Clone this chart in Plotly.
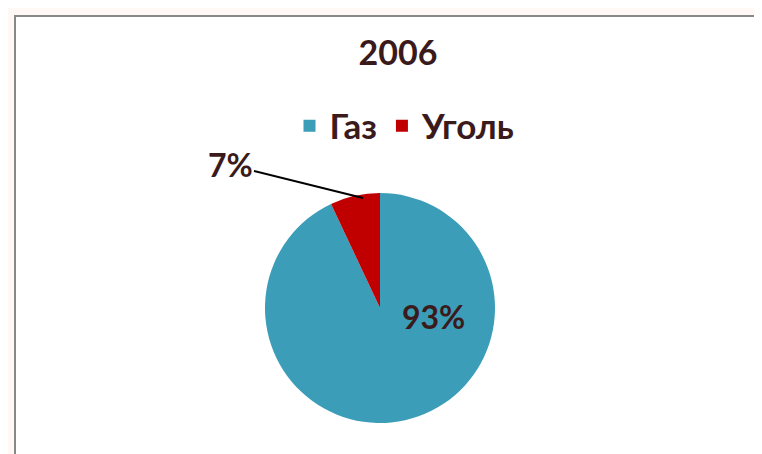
import plotly.graph_objects as go

labels = ["Газ", "Уголь"]
values = [93, 7]
colors = ["#3C9DB8", "#C00000"]
title_text = "2006"

W, H = 762, 454
txt_color = "#3A1A1A"
font_family = "Lato, 'Open Sans', sans-serif"

fig = go.Figure()
fig.add_trace(go.Pie(
    labels=labels,
    values=values,
    sort=False,
    direction="clockwise",
    rotation=0,
    marker=dict(colors=colors, line=dict(width=0)),
    textposition="none",
    domain=dict(x=[(372 - 120) / W, (372 + 120) / W], y=[1 - 415 / H, 1 - 185 / H]),
    hoverinfo="label+percent",
))

pcts = [f"{round(v * 100 / sum(values))}%" for v in values]

# inside label of the big slice
fig.add_annotation(
    x=425 / W, y=1 - 330 / H, xref="paper", yref="paper",
    text="<b>" + pcts[0] + "</b>", showarrow=False,
    font=dict(size=32, color=txt_color, family=font_family),
)
# leader label for the small slice
fig.add_annotation(
    x=355 / W, y=1 - 190 / H, xref="paper", yref="paper",
    text="<b>" + pcts[1] + "</b>", showarrow=True, arrowhead=0, arrowwidth=2, arrowcolor="black",
    ax=-133, ay=-33,
    font=dict(size=32, color=txt_color, family=font_family),
)

fig.add_shape(
    type="rect", xref="paper", yref="paper",
    x0=7 / W, x1=752 / W, y0=-0.1, y1=1 - 8 / H,
    line=dict(color="#888888", width=2), fillcolor="white", layer="below",
)

fig.update_layout(
    width=W, height=H,
    margin=dict(l=0, r=0, t=0, b=0),
    paper_bgcolor="#FFF8F4",
    plot_bgcolor="rgba(0,0,0,0)",
    title=dict(text="<b>" + title_text + "</b>", x=390 / W, xanchor="center",
               y=1 - 45 / H, yanchor="middle",
               font=dict(size=34, color=txt_color, family=font_family)),
    legend=dict(orientation="h", x=397 / W, xanchor="center", y=1 - 118 / H, yanchor="middle",
                font=dict(size=35, color=txt_color, family=font_family, weight="bold"),
                itemwidth=30, bgcolor="rgba(0,0,0,0)"),
    showlegend=True,
)

fig.write_html("out.html")
